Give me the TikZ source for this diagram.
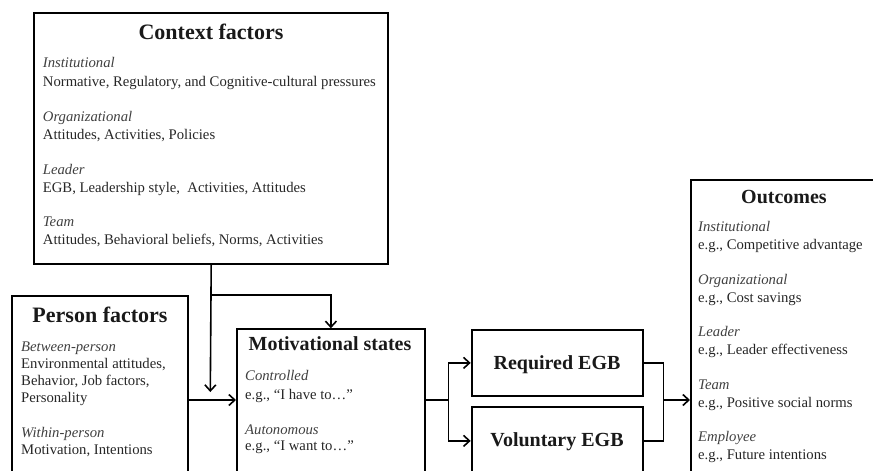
\documentclass[tikz,border=0pt]{standalone}
\usepackage{fontspec}
\setmainfont{Liberation Serif}
\usetikzlibrary{arrows.meta}
\begin{document}
\begin{tikzpicture}[x=1pt,y=-1pt,
  box/.style={draw, line width=1.8pt, inner sep=0pt, anchor=north west},
  ttl/.style={font=\fontsize{22}{24}\selectfont\bfseries, anchor=base, inner sep=0pt, text=black!90},
  ttm/.style={font=\fontsize{20}{22}\selectfont\bfseries, anchor=base, inner sep=0pt, text=black!90},
  txt/.style={font=\fontsize{14.7}{17}\selectfont, anchor=base west, inner sep=0pt, text=black!85},
  lab/.style={font=\fontsize{14.7}{17}\selectfont\itshape, anchor=base west, inner sep=0pt, text=black!75},
  conn/.style={line width=1.6pt},
  arr/.style={conn, -{Straight Barb[length=6pt,width=11pt,line width=1.6pt]}}]
\useasboundingbox (0,0) rectangle (873,471);
\clip (0,0) rectangle (873,471);
% boxes
\node[box, minimum width=354, minimum height=251.3] (ctx) at (33.3,12) {};
\node[box, minimum width=176.3, minimum height=250] (per) at (11,295) {};
\node[box, minimum width=188, minimum height=200] (mot) at (236,328.3) {};
\node[box, minimum width=171, minimum height=66] (req) at (470.7,329) {};
\node[box, minimum width=171, minimum height=68] (vol) at (470.7,406) {};
\node[box, minimum width=300, minimum height=400] (out) at (690,179.3) {};
% context text
\node[ttl] (ctxt) at (211,39) {Context factors};
\node[lab] (c1) at (42.7,67) {Institutional};
\node[txt] (c2) at (42.7,86) {Normative, Regulatory, and Cognitive-cultural pressures};
\node[lab] (c3) at (42.7,121) {Organizational};
\node[txt] (c4) at (42.7,139) {Attitudes, Activities, Policies};
\node[lab] (c5) at (42.7,174) {Leader};
\node[txt] (c6) at (42.7,192) {EGB, Leadership style,\ \ Activities, Attitudes};
\node[lab] (c7) at (42.7,226) {Team};
\node[txt] (c8) at (42.7,244) {Attitudes, Behavioral beliefs, Norms, Activities};
% person text
\node[ttl] (pert) at (100,322) {Person factors};
\node[lab] (p1) at (21,351) {Between-person};
\node[txt] (p2) at (21,368) {Environmental attitudes,};
\node[txt] (p3) at (21,385) {Behavior, Job factors,};
\node[txt] (p4) at (21,402) {Personality};
\node[lab] (p5) at (21,437.5) {Within-person};
\node[txt] (p6) at (21,454) {Motivation, Intentions};
% motivational text
\node[ttm] (mott) at (330,350.7) {Motivational states};
\node[lab] (m1) at (245,380) {Controlled};
\node[txt] (m2) at (245,399) {e.g., “I have to…”};
\node[lab] (m3) at (245,434) {Autonomous};
\node[txt] (m4) at (245,450.7) {e.g., “I want to…”};
% EGB text
\node[ttm] (reqt) at (557,369) {Required EGB};
\node[ttm] (volt) at (557,446.7) {Voluntary EGB};
% outcomes text
\node[ttm] (outt) at (784,203) {Outcomes};
\node[lab] (o1) at (698,231) {Institutional};
\node[txt] (o2) at (698,249) {e.g., Competitive advantage};
\node[lab] (o3) at (698,284) {Organizational};
\node[txt] (o4) at (698,302) {e.g., Cost savings};
\node[lab] (o5) at (698,336) {Leader};
\node[txt] (o6) at (698,354) {e.g., Leader effectiveness};
\node[lab] (o7) at (698,389) {Team};
\node[txt] (o8) at (698,407) {e.g., Positive social norms};
\node[lab] (o9) at (698,441.5) {Employee};
\node[txt] (o10) at (698,459) {e.g., Future intentions};
% connectors
\coordinate (m) at (0,400);
\coordinate (dn) at (210.3,392);
\coordinate (jl) at (448.3,400);
\coordinate (jr) at (663.3,400);
\draw[arr] (ctx.south) -- (dn);
\draw[arr] (ctx.south |- per.north) -| (mot.north);
\draw[arr] (per.east |- m) -- (mot.west |- m);
\draw[conn] (mot.east |- m) -- (jl);
\draw[arr] (jl) |- (req.west);
\draw[arr] (jl) |- (vol.west);
\draw[conn] (req.east) -| (jr);
\draw[conn] (vol.east) -| (jr);
\draw[arr] (jr) -- (out.west |- jr);
\end{tikzpicture}
\end{document}
